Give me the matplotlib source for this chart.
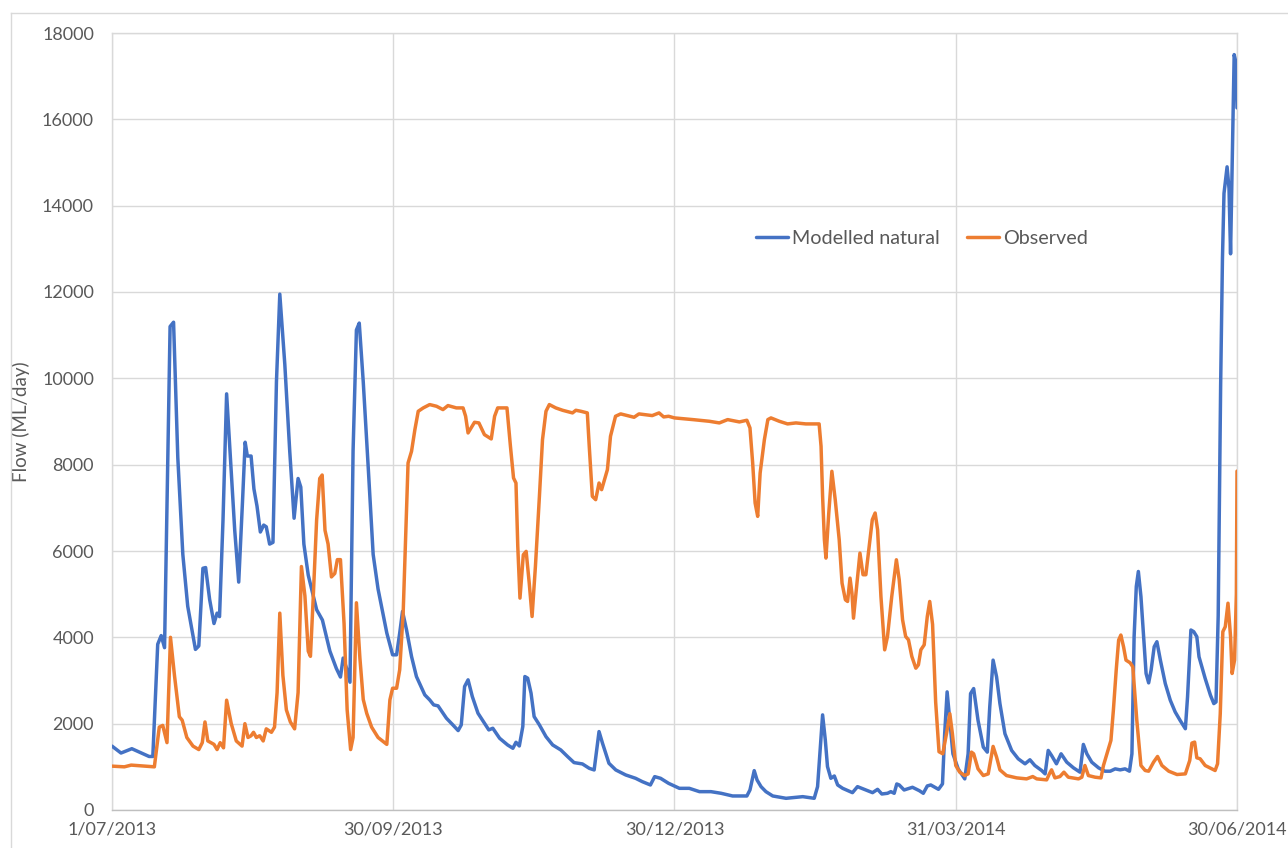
import numpy as np
import matplotlib
matplotlib.use("Agg")
import matplotlib.pyplot as plt
from matplotlib.lines import Line2D

START = np.datetime64("2013-07-01")

# Modelled natural flow (days since 1/07/2013, ML/day)
model_days = [0, 2.9, 6.4, 12, 13.2, 14.8, 15.9, 17, 18.8, 19.9, 21.3, 22.9, 24.5, 27, 28.1,
              29.4, 30.3, 31.6, 33, 34, 34.8, 35.9, 37.1, 38.6, 39.7, 41, 42.2, 43.1, 43.8, 45,
              45.9, 46.9, 48, 49.1, 49.9, 51, 52.1, 53.2, 54.3, 55.9, 57.5, 58.9, 60.2, 61.1, 62.1,
              63.5, 66.2, 68.1, 70.5, 72.6, 73.9, 74.8, 75.9, 77, 78, 79.1, 80, 81.3, 82.9, 84.5,
              86.1, 88.9, 90.8, 92.1, 93.1, 94, 95.3, 96.9, 98.5, 101.2, 102.8, 104.1, 105.5, 108.2,
              110.3, 112, 113, 114.1, 115.2, 116.6, 118.4, 120.5, 121.9, 123.2, 125.4, 128, 129.7,
              130.7, 131.8, 132.9, 133.6, 134.5, 135.6, 136.6, 138.3, 140.4, 142.6, 145.2, 147.4,
              149.5, 152.2, 154.4, 156, 157.6, 158.7, 160.8, 163, 166.2, 169.4, 171.6, 174.2, 175.6,
              177.5, 180.1, 183.6, 186.8, 190.1, 193.8, 197.1, 200.8, 205.4, 206.4, 207.8, 208.7,
              210, 211.6, 213.8, 218.1, 223.5, 227.2, 228.3, 229.2, 229.9, 230.8, 231.5, 232.6,
              233.7, 234.8, 236.4, 239.6, 241.2, 243.4, 246.1, 247.7, 249.1, 250.9, 252, 253.1,
              253.9, 254.7, 256.3, 259, 261.2, 262.5, 263.8, 264.9, 267.4, 268.7, 269.4, 270.2,
              271.1, 272.1, 273.8, 275.9, 277, 277.8, 278.8, 280.2, 281.9, 283.2, 284, 285.1, 286.2,
              287.3, 288.9, 291.1, 293.2, 295.4, 297, 298.6, 300.8, 301.9, 302.9, 304, 305.6, 307.1,
              308.9, 311.1, 313.2, 314.3, 315.4, 317, 319.2, 321.3, 323, 324.6, 326.2, 327.8, 329.2,
              330, 330.7, 331.4, 332.1, 332.9, 333.8, 334.6, 335.4, 336.2, 337.2, 338.1, 339.2,
              340.8, 342.4, 344, 345.6, 347.3, 348, 349.1, 350, 351, 351.7, 353.7, 355.4, 356.5,
              357.2, 357.9, 358.7, 359.3, 359.8, 360.8, 361.4, 361.9, 362.6, 363.1, 363.7, 364]
model_flow = [1480, 1320, 1420, 1240, 1240, 3840, 4040, 3760, 11200, 11300, 8160, 5920, 4720, 3720,
              3800, 5600, 5616, 4880, 4320, 4560, 4480, 6720, 9640, 7840, 6480, 5280, 7120, 8520,
              8200, 8200, 7440, 7040, 6440, 6600, 6560, 6160, 6200, 9920, 11950, 10320, 8320, 6760,
              7680, 7480, 6160, 5440, 4640, 4400, 3680, 3280, 3080, 3520, 3280, 2960, 8320, 11120,
              11280, 9920, 7920, 5920, 5120, 4100, 3595, 3595, 4097, 4600, 4175, 3556, 3092, 2667,
              2551, 2435, 2412, 2126, 1971, 1840, 1971, 2860, 3015, 2628, 2242, 2010, 1855, 1894,
              1662, 1507, 1430, 1569, 1484, 1933, 3092, 3053, 2706, 2164, 1971, 1700, 1507, 1391,
              1237, 1098, 1067, 966, 928, 1817, 1546, 1082, 928, 812, 734, 657, 580, 773, 734, 618,
              502, 502, 425, 425, 387, 325, 325, 464, 912, 696, 541, 425, 325, 271, 309, 271, 541,
              1469, 2203, 1623, 1005, 734, 788, 580, 502, 402, 541, 479, 402, 479, 371, 387, 425,
              387, 603, 580, 464, 526, 448, 387, 557, 580, 479, 605, 1767, 2736, 2077, 1302, 953,
              721, 1302, 2697, 2813, 2077, 1457, 1341, 2387, 3472, 3085, 2465, 1767, 1380, 1186,
              1070, 1163, 1031, 915, 837, 1380, 1263, 1070, 1302, 1108, 977, 876, 1519, 1302, 1108,
              977, 899, 899, 953, 930, 953, 899, 1302, 4015, 5177, 5526, 4945, 4015, 3162, 2945,
              3240, 3782, 3898, 3472, 2930, 2542, 2271, 2077, 1883, 2620, 4170, 4131, 4015, 3550,
              3046, 2658, 2465, 2503, 4500, 9853, 12768, 14284, 14900, 14400, 12885, 15450, 17500,
              17300, 16266]

# Observed flow
obs_days = [0, 4, 6.2, 13.7, 15.3, 16.4, 17.8, 18.9, 20.2, 21.8, 22.7, 24.2, 26.2, 28.1, 29.2, 30.1,
            31, 33, 34, 35, 36.1, 37.1, 38.6, 40.2, 42.1, 43, 44, 45, 45.8, 46.7, 47.8, 48.9, 49.9,
            51.6, 52.6, 53.4, 54.3, 55.3, 56.4, 57.7, 59.1, 60.2, 61.3, 62.4, 63.5, 64.2, 65.1,
            66.2, 67.2, 68, 68.9, 69.9, 71, 72.1, 72.9, 73.9, 75.1, 76.1, 77.2, 78, 79.1, 80.2,
            81.3, 82.4, 84, 86.1, 88.9, 89.9, 90.8, 92.1, 93.1, 94.2, 95.1, 95.8, 96.9, 98, 99.1,
            100.7, 102.8, 105, 107.1, 108.7, 111.4, 113.6, 114.4, 115.2, 117.3, 118.7, 120.5,
            122.7, 123.8, 124.8, 127.8, 128.9, 129.9, 130.7, 131.3, 132, 133.1, 134, 135, 135.9,
            137, 138.3, 139.3, 140.4, 141.5, 143.6, 145.8, 149, 150.1, 151.7, 153.8, 154.4, 155.4,
            156.5, 157.6, 158.4, 160.3, 161.3, 162.9, 164.6, 168.9, 170.5, 174.8, 177, 178.5, 180.1,
            182, 187.9, 193.3, 196.5, 199.2, 203, 205.4, 206.4, 207.3, 208.1, 208.9, 209.7, 211.1,
            212.2, 213.2, 215.9, 218.6, 221.3, 224.5, 228.8, 229.4, 229.9, 230.5, 231, 231.9,
            232.9, 234, 235.3, 236.2, 237.3, 238, 238.8, 239.4, 239.9, 240.7, 242, 243, 243.9, 245,
            246, 246.9, 247.7, 248.8, 250, 250.9, 252.3, 253.8, 254.7, 255.8, 256.8, 257.7, 258.8,
            260.1, 260.9, 261.7, 262.8, 263.8, 264.6, 265.5, 266.5, 267.6, 268.8, 270, 271.1,
            271.9, 273, 274.3, 275.9, 277, 278.1, 278.8, 280.2, 281.9, 283.5, 285.1, 286.2, 287.3,
            289.4, 292.7, 295.9, 297.9, 299.2, 302.4, 303.3, 304, 305.1, 306.7, 308, 309.4, 312.7,
            313.8, 314.8, 315.9, 318.1, 320, 320.8, 321.9, 323.2, 324, 324.9, 325.7, 326.4, 327.3,
            328.1, 329.4, 330.3, 331.6, 332.9, 334.3, 335.4, 337, 338.3, 339.7, 341.9, 344.6,
            347.3, 348.7, 349.4, 350.3, 351, 352.1, 353.7, 355.9, 356.9, 357.7, 358.6, 359.4,
            360.2, 361.1, 361.9, 362.4, 363.2, 363.8, 364]
obs_flow = [1016, 1000, 1040, 1000, 1920, 1960, 1560, 4000, 3120, 2160, 2080, 1680, 1480, 1400, 1560,
            2040, 1600, 1520, 1400, 1560, 1440, 2544, 2000, 1600, 1480, 2000, 1680, 1720, 1800, 1680,
            1720, 1600, 1880, 1800, 1920, 2720, 4560, 3120, 2320, 2040, 1880, 2720, 5640, 4960,
            3680, 3560, 4880, 6720, 7680, 7760, 6480, 6160, 5400, 5480, 5800, 5800, 4320, 2320,
            1400, 1680, 4800, 3520, 2560, 2240, 1920, 1680, 1520, 2551, 2821, 2821, 3247, 4561,
            6493, 8039, 8310, 8812, 9237, 9315, 9392, 9353, 9276, 9369, 9315, 9315, 9121, 8735,
            8982, 8967, 8696, 8596, 9121, 9315, 9315, 8426, 7691, 7575, 6107, 4909, 5913, 5991,
            5256, 4483, 5643, 7266, 8580, 9237, 9392, 9315, 9260, 9199, 9260, 9237, 9199, 8426,
            7266, 7189, 7575, 7421, 7885, 8658, 9121, 9176, 9098, 9176, 9137, 9199, 9106, 9121,
            9083, 9044, 9005, 8967, 9044, 8990, 9029, 8851, 8039, 7112, 6802, 7807, 8580, 9044,
            9083, 9005, 8944, 8967, 8944, 8944, 8426, 7266, 6261, 5836, 6880, 7846, 7189, 6261,
            5256, 4870, 4831, 5372, 5024, 4444, 5024, 5952, 5450, 5450, 6107, 6725, 6880, 6493,
            4947, 3710, 4020, 4947, 5797, 5334, 4406, 4020, 3942, 3556, 3285, 3363, 3710, 3826,
            4483, 4831, 4300, 2500, 1350, 1302, 1767, 2232, 1767, 1031, 876, 798, 837, 1341, 1302,
            953, 798, 837, 1473, 1225, 930, 798, 744, 721, 775, 721, 698, 837, 930, 744, 775, 876,
            760, 721, 760, 1031, 798, 760, 744, 1031, 1302, 1612, 2310, 3240, 3937, 4053, 3782,
            3472, 3410, 3317, 2077, 1031, 915, 899, 1108, 1240, 1031, 899, 822, 837, 1147, 1550,
            1573, 1209, 1186, 1031, 953, 915, 1070, 2232, 4131, 4247, 4790, 4015, 3162, 3472, 5000,
            7850]

tick_days = [0, 91, 182, 273, 364]
tick_labels = ["1/07/2013", "30/09/2013", "30/12/2013", "31/03/2014", "30/06/2014"]

BLUE = "#4472C4"
ORANGE = "#ED7D31"
GRID = "#D9D9D9"
TEXT = "#595959"


def to_dates(days):
    hrs = np.round(np.asarray(days, dtype=float) * 24).astype("timedelta64[h]")
    return START.astype("datetime64[h]") + hrs


plt.rcParams["font.family"] = ["Lato", "DejaVu Sans"]

fig = plt.figure(figsize=(12.88, 8.48), dpi=100)
W, H = 1288, 848
ax = fig.add_axes([112 / W, 1 - 810 / H, (1237 - 112) / W, (810 - 33) / H])

# outer chart border (cut off on right and bottom)
fig.add_artist(Line2D([11 / W, 11 / W], [0, 1 - 13 / H], color=GRID, lw=1))
fig.add_artist(Line2D([11 / W, 1], [1 - 13 / H, 1 - 13 / H], color=GRID, lw=1))

ax.plot(to_dates(model_days), model_flow, color=BLUE, lw=2.5, label="Modelled natural",
        solid_joinstyle="round", solid_capstyle="round", zorder=3)
ax.plot(to_dates(obs_days), obs_flow, color=ORANGE, lw=2.5, label="Observed",
        solid_joinstyle="round", solid_capstyle="round", zorder=3)

ax.set_ylim(0, 18000)
ax.set_yticks(np.arange(0, 18001, 2000))
ax.set_xlim(to_dates([0])[0], to_dates([364])[0])
ax.set_xticks(to_dates(tick_days))
ax.set_xticklabels(tick_labels)

ax.grid(True, color=GRID, lw=1)
ax.set_axisbelow(True)
for s in ax.spines.values():
    s.set_color(GRID)
    s.set_linewidth(1)
ax.spines["bottom"].set_color("#BFBFBF")

ax.tick_params(axis="both", length=0, labelsize=13, colors=TEXT)
ax.tick_params(axis="y", pad=13)
ax.tick_params(axis="x", pad=8)

ax.set_ylabel("Flow (ML/day)", fontsize=13.5, color=TEXT)
ax.yaxis.set_label_coords(-(112 - 30) / 1125, 0.5)

ax.legend(loc="center", bbox_to_anchor=((922 - 112) / 1125, (810 - 238) / 777), ncol=2,
          frameon=False, fontsize=14.2, handlelength=1.65, handletextpad=0.2,
          columnspacing=1.35, labelcolor=TEXT)

fig.savefig("out.png", dpi=100, facecolor="white")
